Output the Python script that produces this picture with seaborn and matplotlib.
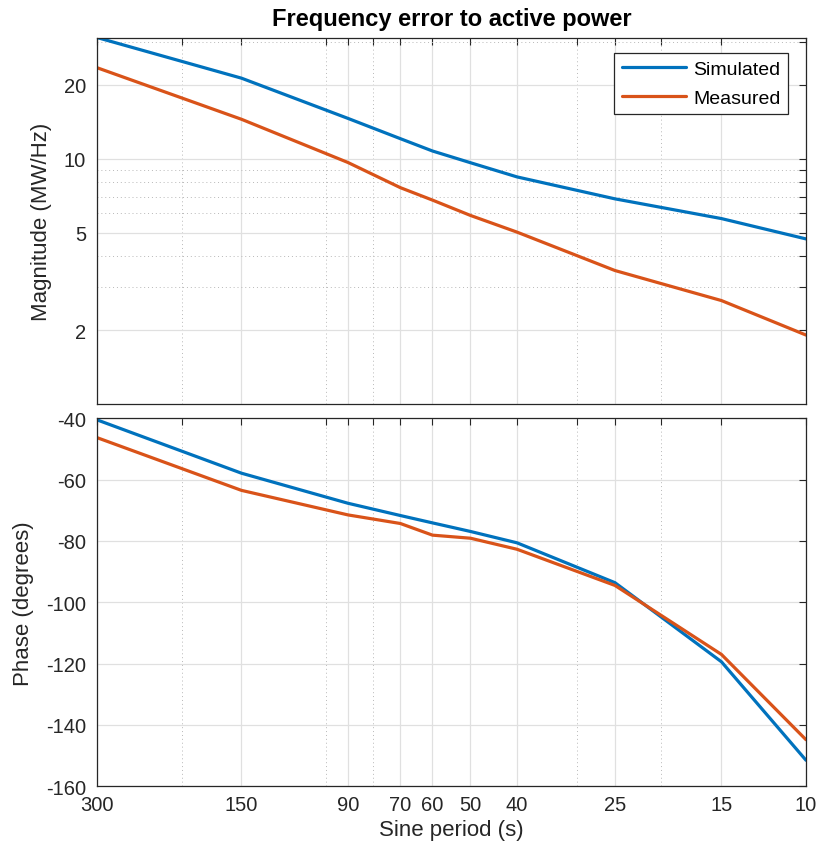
import numpy as np
import pandas as pd
import matplotlib
matplotlib.use("Agg")
import matplotlib.pyplot as plt
import seaborn as sns
from matplotlib.ticker import FixedLocator, NullFormatter, FixedFormatter

# ---------------- data ----------------
periods = [300, 150, 90, 70, 60, 50, 40, 25, 15, 10]
series_names = ["Simulated", "Measured"]
mag_simulated = [31.2, 21.3, 14.6, 12.07, 10.75, 9.63, 8.43, 6.86, 5.70, 4.71]
mag_measured = [23.5, 14.48, 9.65, 7.62, 6.78, 5.87, 5.02, 3.50, 2.64, 1.91]
phase_simulated = [-40.5, -57.9, -67.7, -71.7, -74.1, -76.9, -80.6, -93.6, -119.4, -151.5]
phase_measured = [-46.3, -63.5, -71.5, -74.3, -78.1, -79.1, -82.7, -94.5, -117.0, -144.8]

x_major_ticks = [300, 150, 90, 70, 60, 50, 40, 25, 15, 10]
x_tick_labels = ["300", "150", "90", "70", "60", "50", "40", "25", "15", "10"]
x_minor_ticks = [200, 100, 80, 30, 20]
mag_major_ticks = [2, 5, 10, 20]
mag_tick_labels = ["2", "5", "10", "20"]
mag_minor_ticks = [3, 4, 6, 7, 8, 9, 30]
phase_ticks = [-160, -140, -120, -100, -80, -60, -40]
phase_tick_labels = ["-160", "-140", "-120", "-100", "-80", "-60", "-40"]

colors = {"Simulated": "#0072BD", "Measured": "#D95319"}

df = pd.DataFrame({
    "period": periods * 2,
    "magnitude": mag_simulated + mag_measured,
    "phase": phase_simulated + phase_measured,
    "series": [series_names[0]] * len(periods) + [series_names[1]] * len(periods),
})

# ---------------- style ----------------
sns.set_style("white")
plt.rcParams["font.family"] = ["Liberation Sans", "DejaVu Sans"]
text_col = "#262626"

fig = plt.figure(figsize=(8.2, 8.54), dpi=100)
ax1 = fig.add_axes([0.1183, 0.5258, 0.8646, 0.4291])
ax2 = fig.add_axes([0.1183, 0.0781, 0.8646, 0.4309])

sns.lineplot(data=df, x="period", y="magnitude", hue="series", palette=colors,
             hue_order=series_names, linewidth=2.3, ax=ax1, legend=True)
sns.lineplot(data=df, x="period", y="phase", hue="series", palette=colors,
             hue_order=series_names, linewidth=2.3, ax=ax2, legend=False)


def style_axes(ax):
    ax.set_xscale("log")
    ax.set_xlim(300, 10)
    ax.xaxis.set_major_locator(FixedLocator(x_major_ticks))
    ax.xaxis.set_major_formatter(FixedFormatter(x_tick_labels))
    ax.xaxis.set_minor_locator(FixedLocator(x_minor_ticks))
    ax.xaxis.set_minor_formatter(NullFormatter())
    ax.set_axisbelow(True)
    ax.grid(which="major", color="#e0e0e0", linewidth=0.9, linestyle="-")
    ax.grid(which="minor", color="#b8b8b8", linewidth=0.7, linestyle=(0, (1, 3)))
    ax.tick_params(which="both", direction="in", top=True, right=True,
                   length=5, width=0.8, color=text_col, labelcolor=text_col,
                   labelsize=14.5)
    for s in ax.spines.values():
        s.set_color(text_col)
        s.set_linewidth(0.9)
    for line in ax.lines:
        line.set_solid_joinstyle("round")


style_axes(ax1)
style_axes(ax2)

# magnitude axis
ax1.set_yscale("log")
ax1.set_ylim(1, 31.2)
ax1.yaxis.set_major_locator(FixedLocator(mag_major_ticks))
ax1.yaxis.set_major_formatter(FixedFormatter(mag_tick_labels))
ax1.yaxis.set_minor_locator(FixedLocator(mag_minor_ticks))
ax1.yaxis.set_minor_formatter(NullFormatter())
ax1.tick_params(axis="x", labelbottom=False)
ax1.tick_params(axis="y", pad=8)
ax1.set_xlabel("")
ax1.set_ylabel("Magnitude (MW/Hz)", fontsize=16, color=text_col)
ax1.yaxis.set_label_coords(-0.063, 0.5)
ax1.set_title("Frequency error to active power", fontsize=17, fontweight="bold",
              color="black", pad=9)

handles, labels = ax1.get_legend_handles_labels()
leg = ax1.legend(handles, labels, loc="upper right", bbox_to_anchor=(0.975, 0.958),
                 fontsize=14, frameon=True, fancybox=False, framealpha=1,
                 edgecolor=text_col, handlelength=3.3, handletextpad=0.35,
                 borderpad=0.4, labelspacing=0.55, borderaxespad=0)
leg.get_frame().set_linewidth(0.9)
for t in leg.get_texts():
    t.set_color("black")

# phase axis
ax2.set_ylim(-160, -40)
ax2.yaxis.set_major_locator(FixedLocator(phase_ticks))
ax2.yaxis.set_major_formatter(FixedFormatter(phase_tick_labels))
ax2.tick_params(axis="y", pad=8)
ax2.tick_params(axis="x", pad=6)
ax2.set_ylabel("Phase (degrees)", fontsize=16, color=text_col)
ax2.yaxis.set_label_coords(-0.089, 0.5)
ax2.set_xlabel("Sine period (s)", fontsize=16, color=text_col, labelpad=4)

fig.savefig("out.png", dpi=100)
